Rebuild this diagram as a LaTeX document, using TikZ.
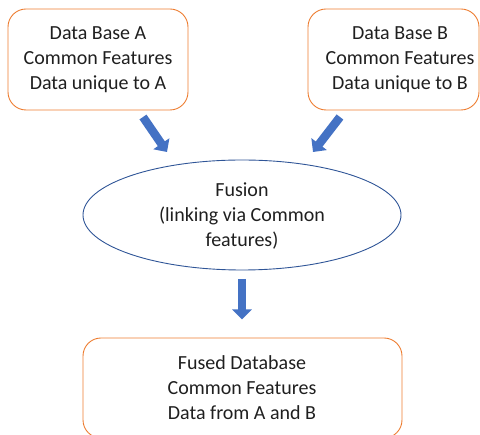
\documentclass[tikz,border=0pt]{standalone}
\usepackage{fontspec}
\setmainfont{Carlito}
\usetikzlibrary{arrows.meta}
\definecolor{boxorange}{HTML}{ED7D31}
\definecolor{fuseblue}{HTML}{2F5597}
\definecolor{arrowblue}{HTML}{4472C4}
\begin{document}
\begin{tikzpicture}[x=1pt,y=-1pt,
  every node/.style={font=\fontsize{20}{25}\selectfont, text=black!88},
  dbbox/.style={draw=boxorange, line width=0.9pt, rounded corners=18pt, inner sep=0pt},
  label/.style={align=center, inner sep=0pt},
  blockarrow/.style={draw=arrowblue, line width=8.5pt,
    -{Triangle[length=10pt,width=19pt]}}]
  \useasboundingbox (0,0) rectangle (480,435);

  % source databases
  \node[dbbox, minimum width=180pt, minimum height=101pt] (A) at (98,59.5) {};
  \node[label] (Atext) at (98,60) {Data Base A\\Common Features\\Data unique to A};
  \node[dbbox, minimum width=171pt, minimum height=101pt] (B) at (393.5,59.5) {};
  \node[label] (Btext) at (400,60) {Data Base B\\Common Features\\Data unique to B};

  % fusion step
  \draw[draw=fuseblue, line width=0.9pt] (242,215) ellipse [x radius=159, y radius=55];
  \coordinate (F) at (242,215);
  \node[label] (Ftext) at (242,216) {Fusion\\(linking via Common\\features)};

  % result
  \node[dbbox, minimum width=319pt, minimum height=100pt] (R) at (242.5,388) {};
  \node[label] (Rtext) at (242,388) {Fused Database\\Common Features\\Data from A and B};

  % block arrows between the stages
  \coordinate (a1) at (143,117);
  \coordinate (a2) at (167,152);
  \coordinate (b1) at (340,117);
  \coordinate (b2) at (313,152);
  \coordinate (c1) at (242,279);
  \coordinate (c2) at (242,319.5);
  \draw[blockarrow] (a1) -- (a2);
  \draw[blockarrow] (b1) -- (b2);
  \draw[blockarrow] (c1) -- (c2);
\end{tikzpicture}
\end{document}
